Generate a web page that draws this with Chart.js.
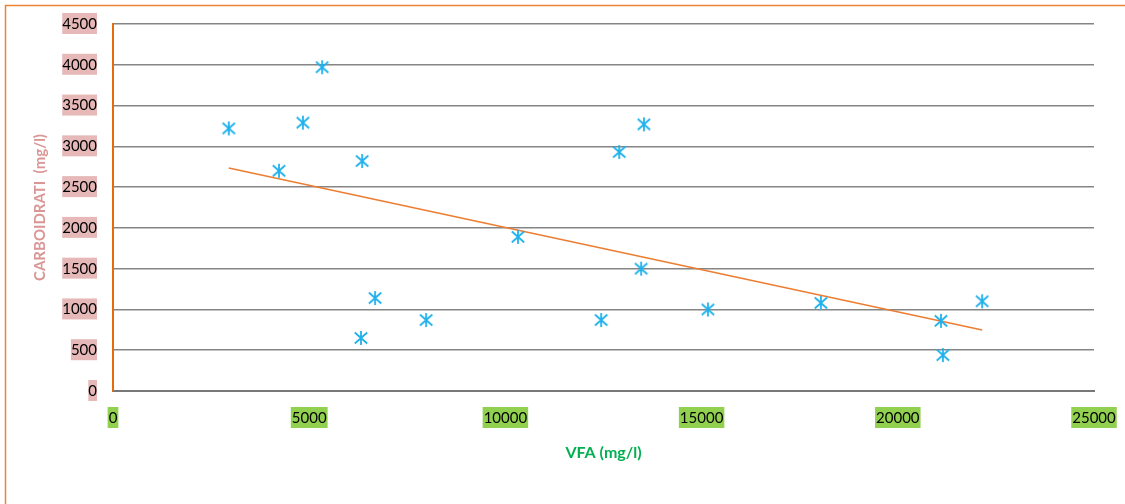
<!DOCTYPE html>
<html>
<head>
<meta charset="utf-8">
<script src="https://cdn.jsdelivr.net/npm/chart.js@4/dist/chart.umd.min.js"></script>
<style>
  html, body { margin: 0; padding: 0; background: #ffffff; }
  #wrap { width: 1125px; height: 504px; position: relative; }
</style>
</head>
<body>
<div id="wrap"><canvas id="c" width="1125" height="504"></canvas></div>
<script>
// Data
const vfa = [2950, 4230, 4840, 5330, 6350, 6320, 6680, 7980, 10320, 12440, 12900, 13530, 13460, 15160, 18040, 21100, 21150, 22150];
const carboidrati = [3220, 2700, 3290, 3970, 2820, 650, 1140, 870, 1890, 870, 2930, 3270, 1500, 1000, 1080, 860, 440, 1100];
const trendX = [2950, 22150];
const trendY = [2735, 748];

const xTitle = 'VFA (mg/l)';
const yTitle = 'CARBOIDRATI  (mg/l)';

const points = vfa.map((x, i) => ({ x: x, y: carboidrati[i] }));
const trend = trendX.map((x, i) => ({ x: x, y: trendY[i] }));

// asterisk marker: X plus vertical bar
function makeStar(color) {
  const s = 16;
  const cv = document.createElement('canvas');
  cv.width = s; cv.height = s;
  const g = cv.getContext('2d');
  g.strokeStyle = color;
  g.lineWidth = 1.8;
  g.lineCap = 'butt';
  g.beginPath();
  g.moveTo(8, 1); g.lineTo(8, 15);
  g.moveTo(1.8, 2.5); g.lineTo(14.2, 13.5);
  g.moveTo(14.2, 2.5); g.lineTo(1.8, 13.5);
  g.stroke();
  return cv;
}
const star = makeStar('#1fb1ec');

const frame = {
  id: 'frame',
  beforeDraw(chart) {
    const ctx = chart.ctx;
    ctx.save();
    ctx.strokeStyle = '#ee8236';
    ctx.lineWidth = 1.5;
    ctx.beginPath();
    ctx.moveTo(5.5, 504); ctx.lineTo(5.5, 5.5); ctx.lineTo(1125, 5.5);
    ctx.stroke();
    ctx.restore();
  }
};

const plain = (v) => String(v);

new Chart(document.getElementById('c'), {
  type: 'scatter',
  data: {
    datasets: [
      {
        type: 'scatter',
        data: points,
        pointStyle: star,
        pointRadius: 8,
        pointHoverRadius: 8
      },
      {
        type: 'line',
        data: trend,
        borderColor: '#ed7d31',
        borderWidth: 1.5,
        pointRadius: 0,
        fill: false,
        tension: 0
      }
    ]
  },
  plugins: [frame],
  options: {
    responsive: false,
    animation: false,
    events: [],
    layout: { padding: { top: 24, right: 31, left: 0, bottom: 0 } },
    plugins: { legend: { display: false }, tooltip: { enabled: false } },
    scales: {
      x: {
        type: 'linear',
        min: 0, max: 25000,
        ticks: {
          stepSize: 5000,
          padding: 18,
          color: '#000000',
          font: { family: 'Lato', size: 15 },
          showLabelBackdrop: true,
          backdropColor: '#92d050',
          backdropPadding: { top: 2, bottom: 1, left: 1, right: 1 },
          maxRotation: 0,
          callback: plain
        },
        grid: { display: false, drawTicks: false },
        border: { display: true, color: '#777777', width: 2 },
        title: {
          display: true,
          text: xTitle,
          color: '#00b050',
          font: { family: 'Lato', size: 16, weight: 'bold' },
          padding: { top: 0, bottom: 42 }
        },
        afterFit(s) { s.height = 113; s.paddingLeft = 0; s.paddingRight = 0; }
      },
      y: {
        type: 'linear',
        min: 0, max: 4500,
        ticks: {
          stepSize: 500,
          padding: 16,
          color: '#000000',
          font: { family: 'Lato', size: 15 },
          showLabelBackdrop: true,
          backdropColor: '#e6b9b8',
          backdropPadding: { top: 2, bottom: 1, left: 0, right: 0 },
          callback: plain
        },
        grid: { color: '#858585', lineWidth: 1.5, drawTicks: false },
        border: { display: true, color: '#e46c0a', width: 2 },
        title: {
          display: true,
          text: yTitle,
          color: '#d99694',
          font: { family: 'Lato', size: 15, weight: 'bold' },
          padding: { top: 31, bottom: 0 }
        },
        afterFit(s) { s.width = 113; s.paddingTop = 0; s.paddingBottom = 0; }
      }
    }
  }
});
</script>
</body>
</html>
